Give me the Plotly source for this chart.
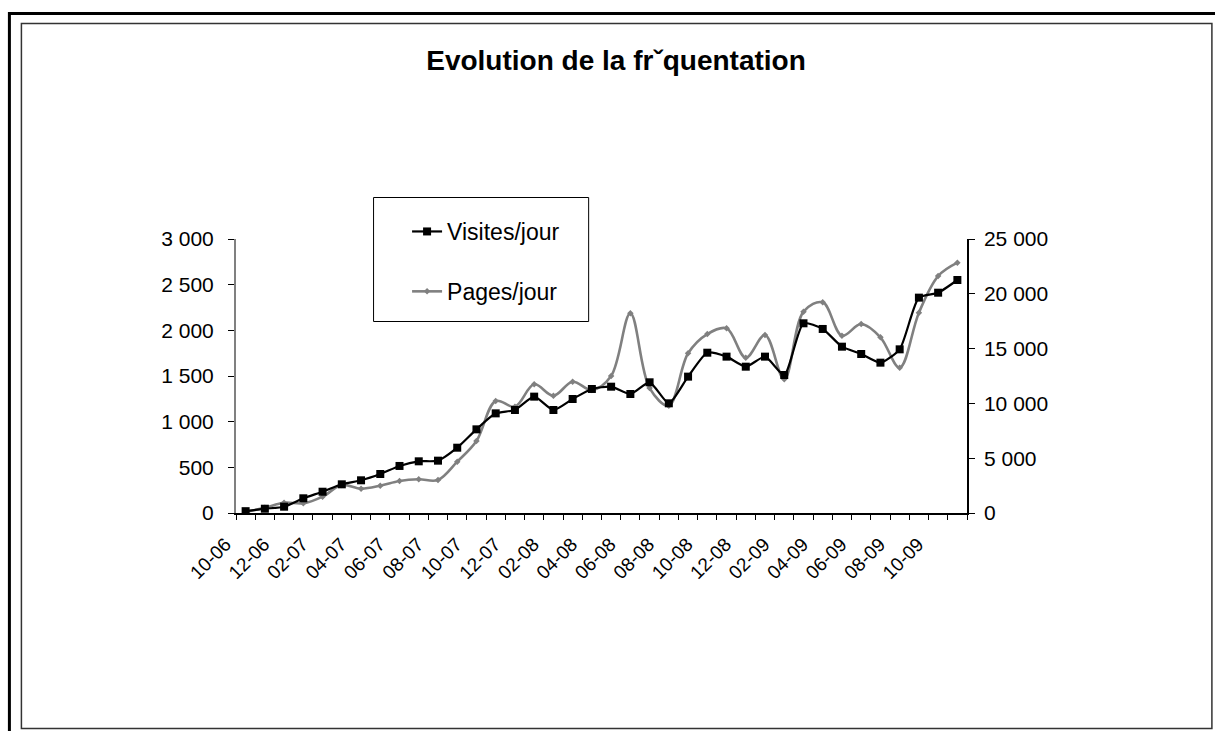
import plotly.graph_objects as go

# ---------------- data ----------------
months = ["10-06", "11-06", "12-06", "01-07", "02-07", "03-07", "04-07", "05-07", "06-07", "07-07",
          "08-07", "09-07", "10-07", "11-07", "12-07", "01-08", "02-08", "03-08", "04-08", "05-08",
          "06-08", "07-08", "08-08", "09-08", "10-08", "11-08", "12-08", "01-09", "02-09", "03-09",
          "04-09", "05-09", "06-09", "07-09", "08-09", "09-09", "10-09", "11-09"]

visites = [20, 47, 69, 161, 233, 314, 358, 427, 515, 566,
           573, 715, 916, 1091, 1128, 1274, 1128, 1248, 1358, 1383,
           1303, 1431, 1201, 1493, 1755, 1712, 1602, 1712, 1511, 2077,
           2015, 1821, 1741, 1646, 1792, 2358, 2412, 2551]

pages = [100, 483, 940, 880, 1490, 2555, 2220, 2490, 2920, 3075,
         3010, 4680, 6570, 10220, 9700, 11740, 10700, 11980, 11220, 12500,
         18220, 11400, 9790, 14570, 16330, 16850, 14170, 16240, 12200, 18370,
         19220, 16180, 17240, 16030, 13260, 18280, 21620, 22840]

left_ticks = [0, 500, 1000, 1500, 2000, 2500, 3000]
right_ticks = [0, 5000, 10000, 15000, 20000, 25000]

# ---------------- geometry ----------------
W_FIG, H_FIG = 1215, 731
L, R, T, B = 236, 966.7, 239, 513
PW, PH = R - L, B - T


def xp(px):
    return (px - L) / PW


def yp(py):
    return (B - py) / PH


FONT = "Liberation Sans, Arial, sans-serif"
idx = list(range(len(months)))
label_idx = idx[::2]
label_txt = months[::2]
bounds = [i - 0.5 for i in range(len(months) + 1)]

fig = go.Figure()
fig.add_trace(go.Scatter(
    x=idx, y=visites, name="Visites/jour", xaxis="x", yaxis="y2",
    mode="lines+markers", line=dict(color="#000000", width=2.2, shape="spline", smoothing=0.6),
    marker=dict(symbol="square", size=8, color="#000000"),
    legendgroup="v"))
fig.add_trace(go.Scatter(
    x=idx, y=pages, name="Pages/jour", xaxis="x", yaxis="y",
    mode="lines+markers", line=dict(color="#808080", width=2.6, shape="spline", smoothing=1.0),
    marker=dict(symbol="diamond", size=5, color="#808080"),
    legendgroup="p"))

xr = [-0.5, len(months) - 0.5]

shapes = [
    # outer thick frame (top & left)
    dict(type="line", xref="paper", yref="paper", x0=xp(8.5), x1=xp(1216), y0=yp(13.5), y1=yp(13.5),
         line=dict(color="#000000", width=3)),
    dict(type="line", xref="paper", yref="paper", x0=xp(9.5), x1=xp(9.5), y0=yp(12), y1=yp(732),
         line=dict(color="#000000", width=3)),
    # inner chart frame
    dict(type="rect", xref="paper", yref="paper", x0=xp(21.5), x1=xp(1211.5), y0=yp(23.5), y1=yp(728.5),
         line=dict(color="#333333", width=1.5)),
    # legend box
    dict(type="rect", xref="paper", yref="paper", x0=xp(373.5), x1=xp(588.5), y0=yp(197.5), y1=yp(321.5),
         line=dict(color="#000000", width=1), fillcolor="rgba(0,0,0,0)"),
]

fig.update_layout(
    width=W_FIG, height=H_FIG, autosize=False,
    margin=dict(l=L, r=W_FIG - R, t=T, b=H_FIG - B, pad=0),
    paper_bgcolor="white", plot_bgcolor="white",
    separators=", ",
    font=dict(family=FONT, size=20, color="#000000"),
    title=dict(text="<b>Evolution de la frˇquentation</b>", x=616 / W_FIG, xref="container",
               y=1 - 60 / H_FIG, yref="container", xanchor="center", yanchor="middle",
               font=dict(family=FONT, size=28, color="#000000")),
    showlegend=True,
    legend=dict(x=xp(407), y=yp(210), xanchor="left", yanchor="top", xref="paper", yref="paper",
                bgcolor="rgba(0,0,0,0)", borderwidth=0, font=dict(family=FONT, size=23),
                traceorder="grouped", tracegroupgap=27, itemwidth=30),
    shapes=shapes,
    xaxis=dict(range=xr, tickmode="array", tickvals=label_idx, ticktext=label_txt, ticks="",
               tickangle=-45, tickfont=dict(family=FONT, size=19), ticklabelshift=-20,
               ticklabelstandoff=11, showline=True, linecolor="#000000",
               linewidth=1.5, showgrid=False, zeroline=False, automargin=False, anchor="y",
               minor=dict(tickmode="array", tickvals=bounds, ticks="outside", ticklen=5,
                          tickcolor="#000000", tickwidth=1.2, showgrid=False)),
    xaxis2=dict(range=xr, overlaying="x", anchor="y", side="bottom", tickmode="array", tickvals=bounds,
                ticks="inside", ticklen=5, tickcolor="#000000", tickwidth=1.2, showticklabels=False,
                showline=False, showgrid=False, zeroline=False, automargin=False),
    yaxis=dict(range=[0, 25000], side="right", anchor="x", tickmode="array", tickvals=right_ticks,
               tickformat=",d", ticks="outside", ticklen=6, tickcolor="#000000", tickwidth=1.2,
               showline=True, linecolor="#000000", linewidth=1.5, showgrid=False, zeroline=False,
               automargin=False, ticklabelstandoff=5, tickfont=dict(family=FONT, size=21)),
    yaxis2=dict(range=[0, 3000], side="left", overlaying="y", anchor="x", tickmode="array",
                tickvals=left_ticks, tickformat=",d", ticks="outside", ticklen=6, tickcolor="#000000",
                tickwidth=1.2, showline=True, linecolor="#808080", linewidth=2, showgrid=False,
                zeroline=False, automargin=False, ticklabelstandoff=10, tickfont=dict(family=FONT, size=21)),
    yaxis3=dict(range=[0, 3000], side="left", overlaying="y", anchor="x", tickmode="array",
                tickvals=left_ticks, ticks="inside", ticklen=6, tickcolor="#000000", tickwidth=1.2,
                showticklabels=False, showline=False, showgrid=False, zeroline=False, automargin=False),
    yaxis4=dict(range=[0, 25000], side="right", overlaying="y", anchor="x", tickmode="array",
                tickvals=right_ticks, ticks="inside", ticklen=6, tickcolor="#000000", tickwidth=1.2,
                showticklabels=False, showline=False, showgrid=False, zeroline=False, automargin=False),
)

fig.write_html("out.html", config={"displayModeBar": False},
               post_script="document.body.style.margin='0px';")
